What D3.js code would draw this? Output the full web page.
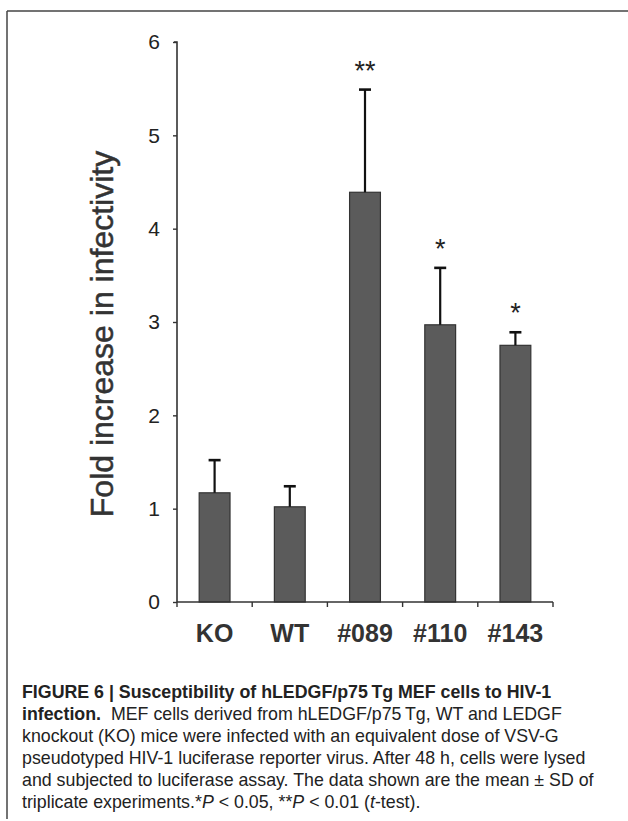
<!DOCTYPE html>
<html>
<head>
<meta charset="utf-8">
<script src="https://cdn.jsdelivr.net/npm/d3@7"></script>
<style>
  html, body { margin: 0; padding: 0; background: #fff; }
  svg { display: block; }
</style>
</head>
<body>
<script>
// ---- data ----
const categories = ["KO", "WT", "#089", "#110", "#143"];
const means      = [1.17, 1.02, 4.39, 2.97, 2.75];
const sds        = [0.35, 0.22, 1.10, 0.61, 0.14];
const significance = ["", "", "**", "*", "*"];
const yTicks     = [0, 1, 2, 3, 4, 5, 6];
const yLabel     = "Fold increase in infectivity";
const captionLines = [
  [{t: "FIGURE 6 | Susceptibility of hLEDGF/p75\u2009Tg MEF cells to HIV-1", b: true}],
  [{t: "infection.", b: true}, {t: "\u00a0 MEF cells derived from hLEDGF/p75\u2009Tg, WT and LEDGF"}],
  [{t: "knockout (KO) mice were infected with an equivalent dose of VSV-G"}],
  [{t: "pseudotyped HIV-1 luciferase reporter virus. After 48 h, cells were lysed"}],
  [{t: "and subjected to luciferase assay. The data shown are the mean \u00b1 SD of"}],
  [{t: "triplicate experiments.*"}, {t: "P", i: true}, {t: " < 0.05, **"}, {t: "P", i: true}, {t: " < 0.01 ("}, {t: "t", i: true}, {t: "-test)."}]
];

// ---- layout ----
const W = 628, H = 821;
const svg = d3.select("body").append("svg").attr("width", W).attr("height", H);
const font = "'Liberation Sans', Arial, Helvetica, sans-serif";

// frame
svg.append("line").attr("x1", 7).attr("x2", W).attr("y1", 11).attr("y2", 11)
  .attr("stroke", "#444").attr("stroke-width", 1.5);
svg.append("line").attr("x1", 7).attr("x2", 7).attr("y1", 11).attr("y2", 819)
  .attr("stroke", "#444").attr("stroke-width", 1.5);

const x = d3.scaleBand().domain(categories).range([177, 553]).paddingInner(0).paddingOuter(0);
const y = d3.scaleLinear().domain([0, 6]).range([602, 42]);
const barW = x.bandwidth() * 0.41;

// bars
const g = svg.append("g");
g.selectAll("rect.bar").data(categories).join("rect")
  .attr("class", "bar")
  .attr("x", d => x(d) + x.bandwidth() / 2 - barW / 2)
  .attr("width", barW)
  .attr("y", (d, i) => y(means[i]))
  .attr("height", (d, i) => y(0) - y(means[i]))
  .attr("fill", "#5b5b5b")
  .attr("stroke", "#333")
  .attr("stroke-width", 1.2);

// error bars (upper only)
const capW = 12;
categories.forEach((c, i) => {
  const cx = x(c) + x.bandwidth() / 2;
  const top = y(means[i] + sds[i]);
  g.append("line").attr("x1", cx).attr("x2", cx).attr("y1", y(means[i])).attr("y2", top)
    .attr("stroke", "#111").attr("stroke-width", 2.2);
  g.append("line").attr("x1", cx - capW / 2).attr("x2", cx + capW / 2).attr("y1", top).attr("y2", top)
    .attr("stroke", "#111").attr("stroke-width", 2.6);
  if (significance[i]) {
    g.append("text").attr("x", cx).attr("y", top - 10)
      .attr("text-anchor", "middle")
      .attr("font-family", font).attr("font-size", 27).attr("fill", "#222")
      .text(significance[i]);
  }
});

// y axis
const yAxis = d3.axisLeft(y).tickValues(yTicks).tickFormat(d3.format("d")).tickSize(4).tickPadding(13);
const ya = svg.append("g").attr("transform", "translate(177,0)").call(yAxis);
ya.select(".domain").attr("stroke", "#333").attr("stroke-width", 1.6).attr("d", "M-3,42H0V602");
ya.selectAll(".tick line").attr("stroke", "#333").attr("stroke-width", 1.4);
ya.selectAll(".tick text").attr("font-family", font).attr("font-size", 21).attr("fill", "#222");

// x axis with boundary ticks
const boundaries = categories.map(c => x(c)).concat([x.range()[1]]);
svg.append("line").attr("x1", 177).attr("x2", 553).attr("y1", y(0)).attr("y2", y(0))
  .attr("stroke", "#333").attr("stroke-width", 1.6);
svg.selectAll("line.xt").data(boundaries).join("line").attr("class", "xt")
  .attr("x1", d => d).attr("x2", d => d).attr("y1", y(0)).attr("y2", y(0) + 5)
  .attr("stroke", "#333").attr("stroke-width", 1.4);
svg.selectAll("text.xl").data(categories).join("text").attr("class", "xl")
  .attr("x", d => x(d) + x.bandwidth() / 2).attr("y", 642)
  .attr("text-anchor", "middle")
  .attr("font-family", font).attr("font-size", 25).attr("font-weight", "bold").attr("fill", "#333")
  .text(d => d);

// y label
svg.append("text")
  .attr("transform", "translate(113,334) rotate(-90)")
  .attr("text-anchor", "middle")
  .attr("font-family", font).attr("font-size", 32).attr("fill", "#333")
  .attr("stroke", "#333").attr("stroke-width", 0.5)
  .text(yLabel);

// caption
const cap = svg.append("g");
captionLines.forEach((parts, li) => {
  const t = cap.append("text").attr("x", 22).attr("y", 698 + li * 22)
    .attr("font-family", font).attr("font-size", 17.8).attr("fill", "#222")
    .attr("xml:space", "preserve");
  parts.forEach(p => {
    t.append("tspan").text(p.t)
      .attr("font-weight", p.b ? "bold" : null)
      .attr("font-style", p.i ? "italic" : null);
  });
});
</script>
</body>
</html>
